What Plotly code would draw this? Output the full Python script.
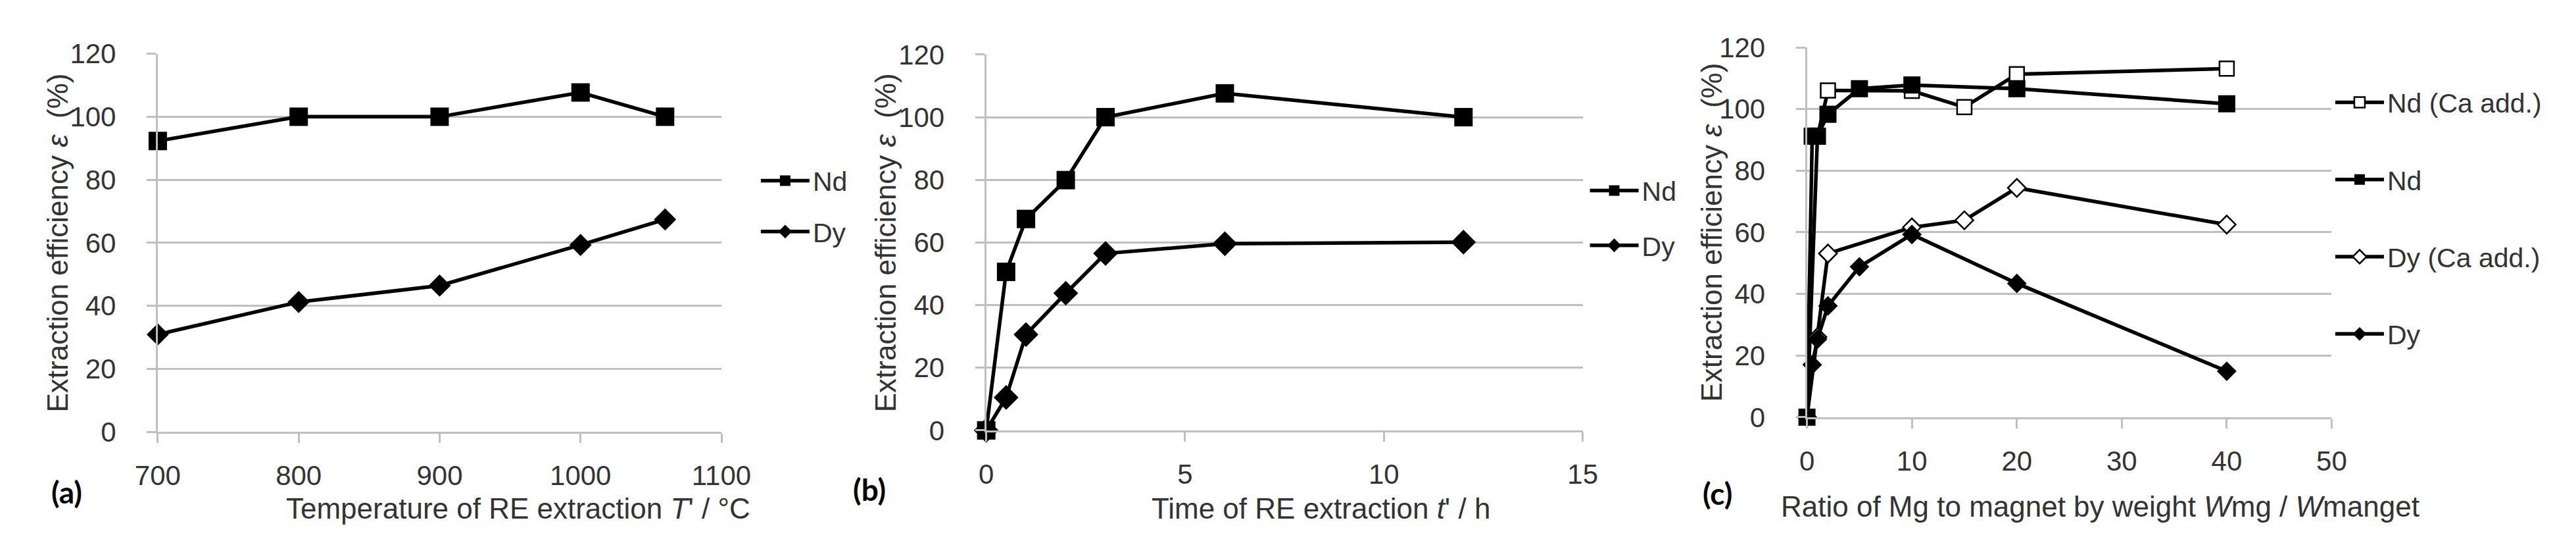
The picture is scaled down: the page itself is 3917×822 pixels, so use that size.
import plotly.graph_objects as go

# ---------------- data ----------------
a_temp = [700, 800, 900, 1000, 1060]
a_nd = [92.3, 100, 100, 107.7, 100]
a_dy = [30.9, 41.2, 46.4, 59.3, 67.4]

b_time = [0, 0.5, 1, 2, 3, 6, 12]
b_nd = [0, 50.6, 67.5, 79.9, 100, 107.6, 100]
b_dy = [0, 10.5, 30.6, 43.8, 56.5, 59.6, 60.1]

c_x_nd_ca = [0, 1, 2, 10, 15, 20, 40]
c_nd_ca = [0, 91, 106, 105.9, 100.6, 111.3, 113.1]
c_x_nd = [0, 0.5, 1, 2, 5, 10, 20, 40]
c_nd = [0, 91.2, 91.2, 98.3, 106.6, 107.8, 106.6, 101.7]
c_x_dy_ca = [0, 1, 2, 10, 15, 20, 40]
c_dy_ca = [0, 26, 53.1, 61.6, 63.9, 74.4, 62.5]
c_x_dy = [0, 0.5, 1, 2, 5, 10, 20, 40]
c_dy = [0, 17, 25.3, 36.1, 48.8, 59.3, 43.4, 14.9]

# ---------------- style ----------------
W, H = 3917, 822
FONT = "Liberation Sans, Arial, sans-serif"
TXT = "#333333"
GRID = "#bfbfbf"
LW = 5.5

fig = go.Figure()


def add(x, y, name, xa, ya, legend, symbol, size, filled=True):
    fig.add_trace(go.Scatter(
        x=x, y=y, name=name, mode="lines+markers",
        xaxis=xa, yaxis=ya, legend=legend, legendgroup=name + legend,
        line=dict(color="black", width=LW),
        marker=dict(symbol=symbol, size=size,
                    color="black" if filled else "white",
                    line=dict(color="black", width=0 if filled else 2.5)),
        cliponaxis=False,
    ))


add(a_temp, a_nd, "Nd", "x", "y", "legend", "square", 28)
add(a_temp, a_dy, "Dy", "x", "y", "legend", "diamond", 26)
add(b_time, b_nd, "Nd", "x2", "y2", "legend2", "square", 28)
add(b_time, b_dy, "Dy", "x2", "y2", "legend2", "diamond", 29)
add(c_x_nd_ca, c_nd_ca, "Nd (Ca add.)", "x3", "y3", "legend3", "square", 22, filled=False)
add(c_x_nd, c_nd, "Nd", "x3", "y3", "legend3", "square", 26)
add(c_x_dy_ca, c_dy_ca, "Dy (Ca add.)", "x3", "y3", "legend3", "diamond", 21, filled=False)
add(c_x_dy, c_dy, "Dy", "x3", "y3", "legend3", "diamond", 23)


def xax(domain, rng, dtick, anchor):
    return dict(domain=domain, range=rng, dtick=dtick, tick0=rng[0], anchor=anchor,
                showgrid=False, zeroline=False, showline=True, linecolor=GRID, linewidth=3,
                ticks="outside", ticklen=14, tickwidth=3, tickcolor=GRID,
                ticklabelstandoff=14,
                tickfont=dict(family=FONT, size=42, color=TXT))


def yax(domain, anchor):
    return dict(domain=domain, range=[0, 120], dtick=20, anchor=anchor,
                showgrid=True, gridcolor=GRID, gridwidth=3, zeroline=False,
                showline=True, linecolor=GRID, linewidth=3,
                ticks="outside", ticklen=14, tickwidth=3, tickcolor=GRID,
                ticklabelstandoff=38,
                tickfont=dict(family=FONT, size=42, color=TXT))


def leg(x, y, gap):
    return dict(x=x, y=y, xanchor="left", yanchor="middle", traceorder="grouped",
                tracegroupgap=gap, itemwidth=74, bgcolor="rgba(0,0,0,0)",
                font=dict(family=FONT, size=41, color=TXT))


fig.update_layout(
    width=W, height=H, margin=dict(l=0, r=0, t=0, b=0),
    paper_bgcolor="white", plot_bgcolor="white",
    showlegend=True,
    xaxis=xax([0.051315, 0.274700], [700, 1100], 100, "y"),
    yaxis=yax([0.19343, 0.93467], "x"),
    xaxis2=xax([0.379627, 0.616033], [0, 15], 5, "y2"),
    yaxis2=yax([0.19623, 0.93309], "x2"),
    xaxis3=xax([0.704876, 0.912816], [0, 50], 10, "y3"),
    yaxis3=yax([0.22214, 0.94708], "x3"),
    legend=leg(0.28900, 0.6357, 21),
    legend2=leg(0.61756, 0.6125, 27),
    legend3=leg(0.91294, 0.6119, 61),
)

ytitle = "Extraction efficiency <i>ε</i>  (%)"
annos = [
    # y titles
    dict(x=0.011488, y=0.5633, text=ytitle, textangle=-90, size=44),
    dict(x=0.3398, y=0.5646, text=ytitle, textangle=-90, size=44),
    dict(x=0.66709, y=0.58455, text=ytitle, textangle=-90, size=44),
    # x titles
    dict(x=0.19428, y=0.0426, text="Temperature of RE extraction <i>T</i>' / °C", size=44),
    dict(x=0.51213, y=0.0426, text="Time of RE extraction <i>t</i>' / h", size=44),
    dict(x=0.82104, y=0.0475, text="Ratio of Mg to magnet by weight <i>W</i>mg / <i>W</i>manget", size=44),
]
for a in annos:
    fig.add_annotation(x=a["x"], y=a["y"], xref="paper", yref="paper", text=a["text"],
                       textangle=a.get("textangle", 0), showarrow=False,
                       xanchor="center", yanchor="middle",
                       font=dict(family=FONT, size=a["size"], color=TXT))

panel_labels = [("(a)", 0.01532, 0.07543), ("(b)", 0.33342, 0.0803), ("(c)", 0.6694, 0.0730)]
for t, x, y in panel_labels:
    fig.add_annotation(x=x, y=y, xref="paper", yref="paper", text="<b>" + t + "</b>",
                       showarrow=False, xanchor="center", yanchor="middle",
                       font=dict(family="Lato, Open Sans, sans-serif", size=46, color="black"))

fig.write_html("out.html")
